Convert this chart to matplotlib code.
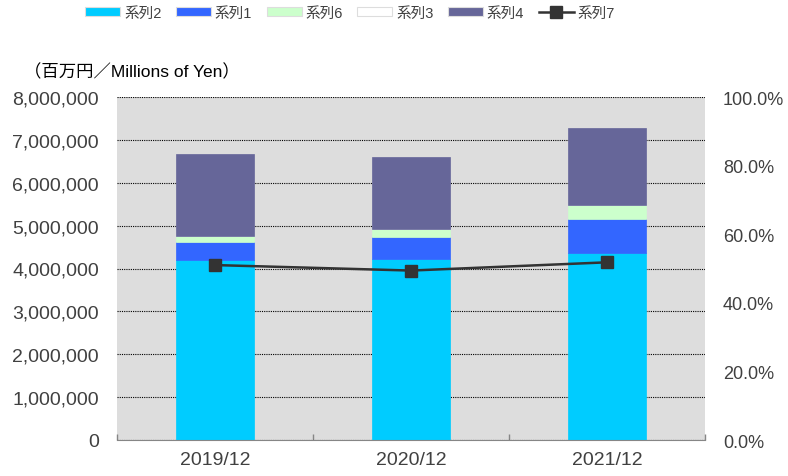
import matplotlib
matplotlib.use("Agg")
import matplotlib.pyplot as plt
from matplotlib.ticker import FuncFormatter, FixedLocator
import numpy as np

plt.rcParams['font.family'] = ['Liberation Sans', 'Noto Sans CJK JP', 'DejaVu Sans']

categories = ["2019/12", "2020/12", "2021/12"]
series_names = ["系列2", "系列1", "系列6", "系列3", "系列4"]
s2 = [4200000, 4230000, 4370000]
s1 = [420000, 500000, 780000]
s6 = [140000, 190000, 320000]
s3 = [0, 0, 0]
s4 = [1910000, 1670000, 1800000]
s7 = [51.0, 49.4, 51.8]
line_name = "系列7"
unit_label = "（百万円／Millions of Yen）"

colors = ["#00CCFF", "#3366FF", "#CCFFCC", "#FFFFFF", "#666699"]
text_color = "#404040"

fig = plt.figure(figsize=(7.88, 4.77), dpi=100)
ax = fig.add_axes([117/788, 1-441/477, (705-117)/788, (441-98)/477])
ax.set_facecolor("#DDDDDD")
ax.set_zorder(1)

x = np.arange(len(categories))
bottom = np.zeros(len(categories))
handles = []
for name, vals, c in zip(series_names, [s2, s1, s6, s3, s4], colors):
    b = ax.bar(x, vals, width=0.4, bottom=bottom, color=c, label=name,
               edgecolor=c, linewidth=0.5, zorder=3)
    bottom += np.array(vals, dtype=float)
    handles.append(b)

ax.set_xlim(-0.5, 2.5)
ax.set_ylim(0, 8000000)
ax.yaxis.set_major_locator(FixedLocator(np.arange(0, 8000001, 1000000)))
ax.yaxis.set_major_formatter(FuncFormatter(lambda v, p: f"{int(v):,}"))
ax.grid(axis='y', color='#000000', linestyle=(0, (1, 1)), linewidth=0.8, zorder=1)
ax.set_axisbelow(True)
ax.set_xticks(x)
ax.set_xticklabels(categories)
ax.set_xticks([-0.5, 0.5, 1.5, 2.5], minor=True)
ax.tick_params(axis='x', which='major', length=0, pad=8, labelsize=14, labelcolor=text_color)
ax.tick_params(axis='x', which='minor', direction='in', length=4, color='#868686', width=1)
ax.tick_params(axis='y', length=0, pad=13, labelsize=14, labelcolor=text_color)
for s in ['left', 'right', 'top']:
    ax.spines[s].set_visible(False)
ax.spines['bottom'].set_color('#868686')
ax.spines['bottom'].set_zorder(5)

ax2 = ax.twinx()
ax2.set_ylim(0, 100)
ax2.yaxis.set_major_locator(FixedLocator(np.arange(0, 101, 20)))
ax2.yaxis.set_major_formatter(FuncFormatter(lambda v, p: f"{v:.1f}%"))
ax2.tick_params(axis='y', length=0, pad=13, labelsize=13, labelcolor=text_color)
for s in ['left', 'right', 'top', 'bottom']:
    ax2.spines[s].set_visible(False)
ln, = ax2.plot(x, s7, color='#333333', linewidth=1.8, marker='s', markersize=8,
               markerfacecolor='#333333', markeredgecolor='#333333', label=line_name, zorder=5)
ax2.set_zorder(2)

fig.text(24/788, 1-72/477, unit_label, fontsize=12.5, color='#000000', va='center', ha='left')

leg = fig.legend(handles + [ln], series_names + [line_name], loc='center',
                 bbox_to_anchor=(350/788, 1-14/477), ncol=6, frameon=False,
                 fontsize=10.5, handlelength=2.4, handleheight=0.55, handletextpad=0.25,
                 columnspacing=1.0, labelcolor=text_color)
for h in leg.legend_handles[:5]:
    h.set_edgecolor('#DDDDDD')
    h.set_linewidth(0.8)

fig.savefig("out.png", dpi=100)
